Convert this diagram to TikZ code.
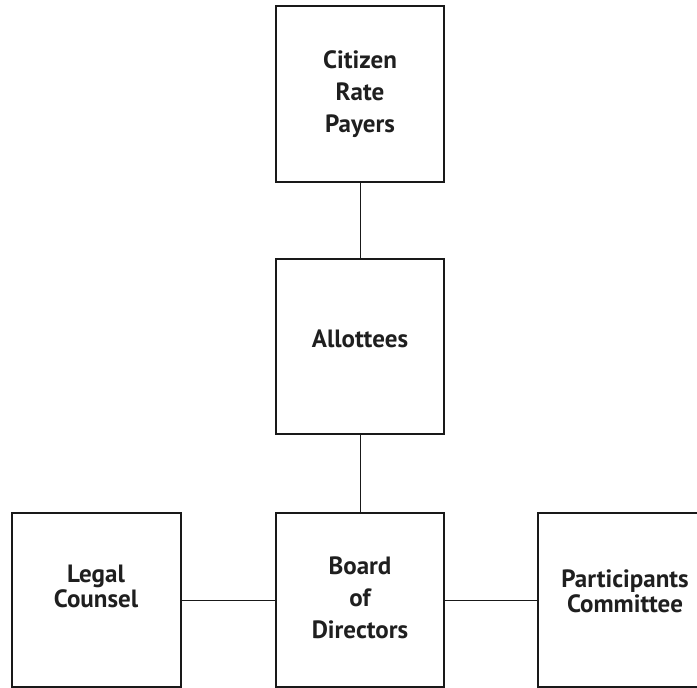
\documentclass[tikz,border=0pt]{standalone}
\usepackage{fontspec}
\setmainfont{PT Sans}
\begin{document}
\begin{tikzpicture}[x=1pt,y=-1pt,
  orgbox/.style={draw=black!90,line width=2pt,fill=none},
  link/.style={draw=black!90,line width=1pt},
  lbl/.style={font=\bfseries\fontsize{25}{32}\selectfont,align=center,inner sep=0pt,text=black!88}]
\useasboundingbox (0,0) rectangle (697,688);
% boxes
\path[orgbox] (276,6) rectangle (444,182);
\path[orgbox] (276,259) rectangle (444,434);
\path[orgbox] (276,513) rectangle (444,687);
\path[orgbox] (12,513) rectangle (181,687);
\path[orgbox] (538,513) rectangle (707,687);
\node[name=crp,minimum width=168pt,minimum height=176pt,inner sep=0pt] at (360,94) {};
\node[name=all,minimum width=168pt,minimum height=175pt,inner sep=0pt] at (360,346.5) {};
\node[name=bod,minimum width=168pt,minimum height=174pt,inner sep=0pt] at (360,600) {};
\node[name=leg,minimum width=169pt,minimum height=174pt,inner sep=0pt] at (96.5,600) {};
\node[name=par,minimum width=169pt,minimum height=174pt,inner sep=0pt] at (622.5,600) {};
% texts (anchor=base is the baseline of the last line)
\node[lbl,anchor=base] (crpT) at (360,132) {Citizen\\Rate\\Payers};
\node[lbl,anchor=base] (allT) at (360,347) {Allottees};
\node[lbl,anchor=base] (bodT) at (360,638) {Board\\of\\Directors};
\node[lbl,anchor=base,font=\bfseries\fontsize{25}{25}\selectfont] (legT) at (96,607) {Legal\\Counsel};
\node[lbl,anchor=base,font=\bfseries\fontsize{25}{25}\selectfont] (parT) at (625,612) {Participants\\Committee};
% connectors
\draw[link] (crp.south) -- (all.north);
\draw[link] (all.south) -- (bod.north);
\draw[link] (leg.east) -- (bod.west);
\draw[link] (bod.east) -- (par.west);
\end{tikzpicture}
\end{document}
